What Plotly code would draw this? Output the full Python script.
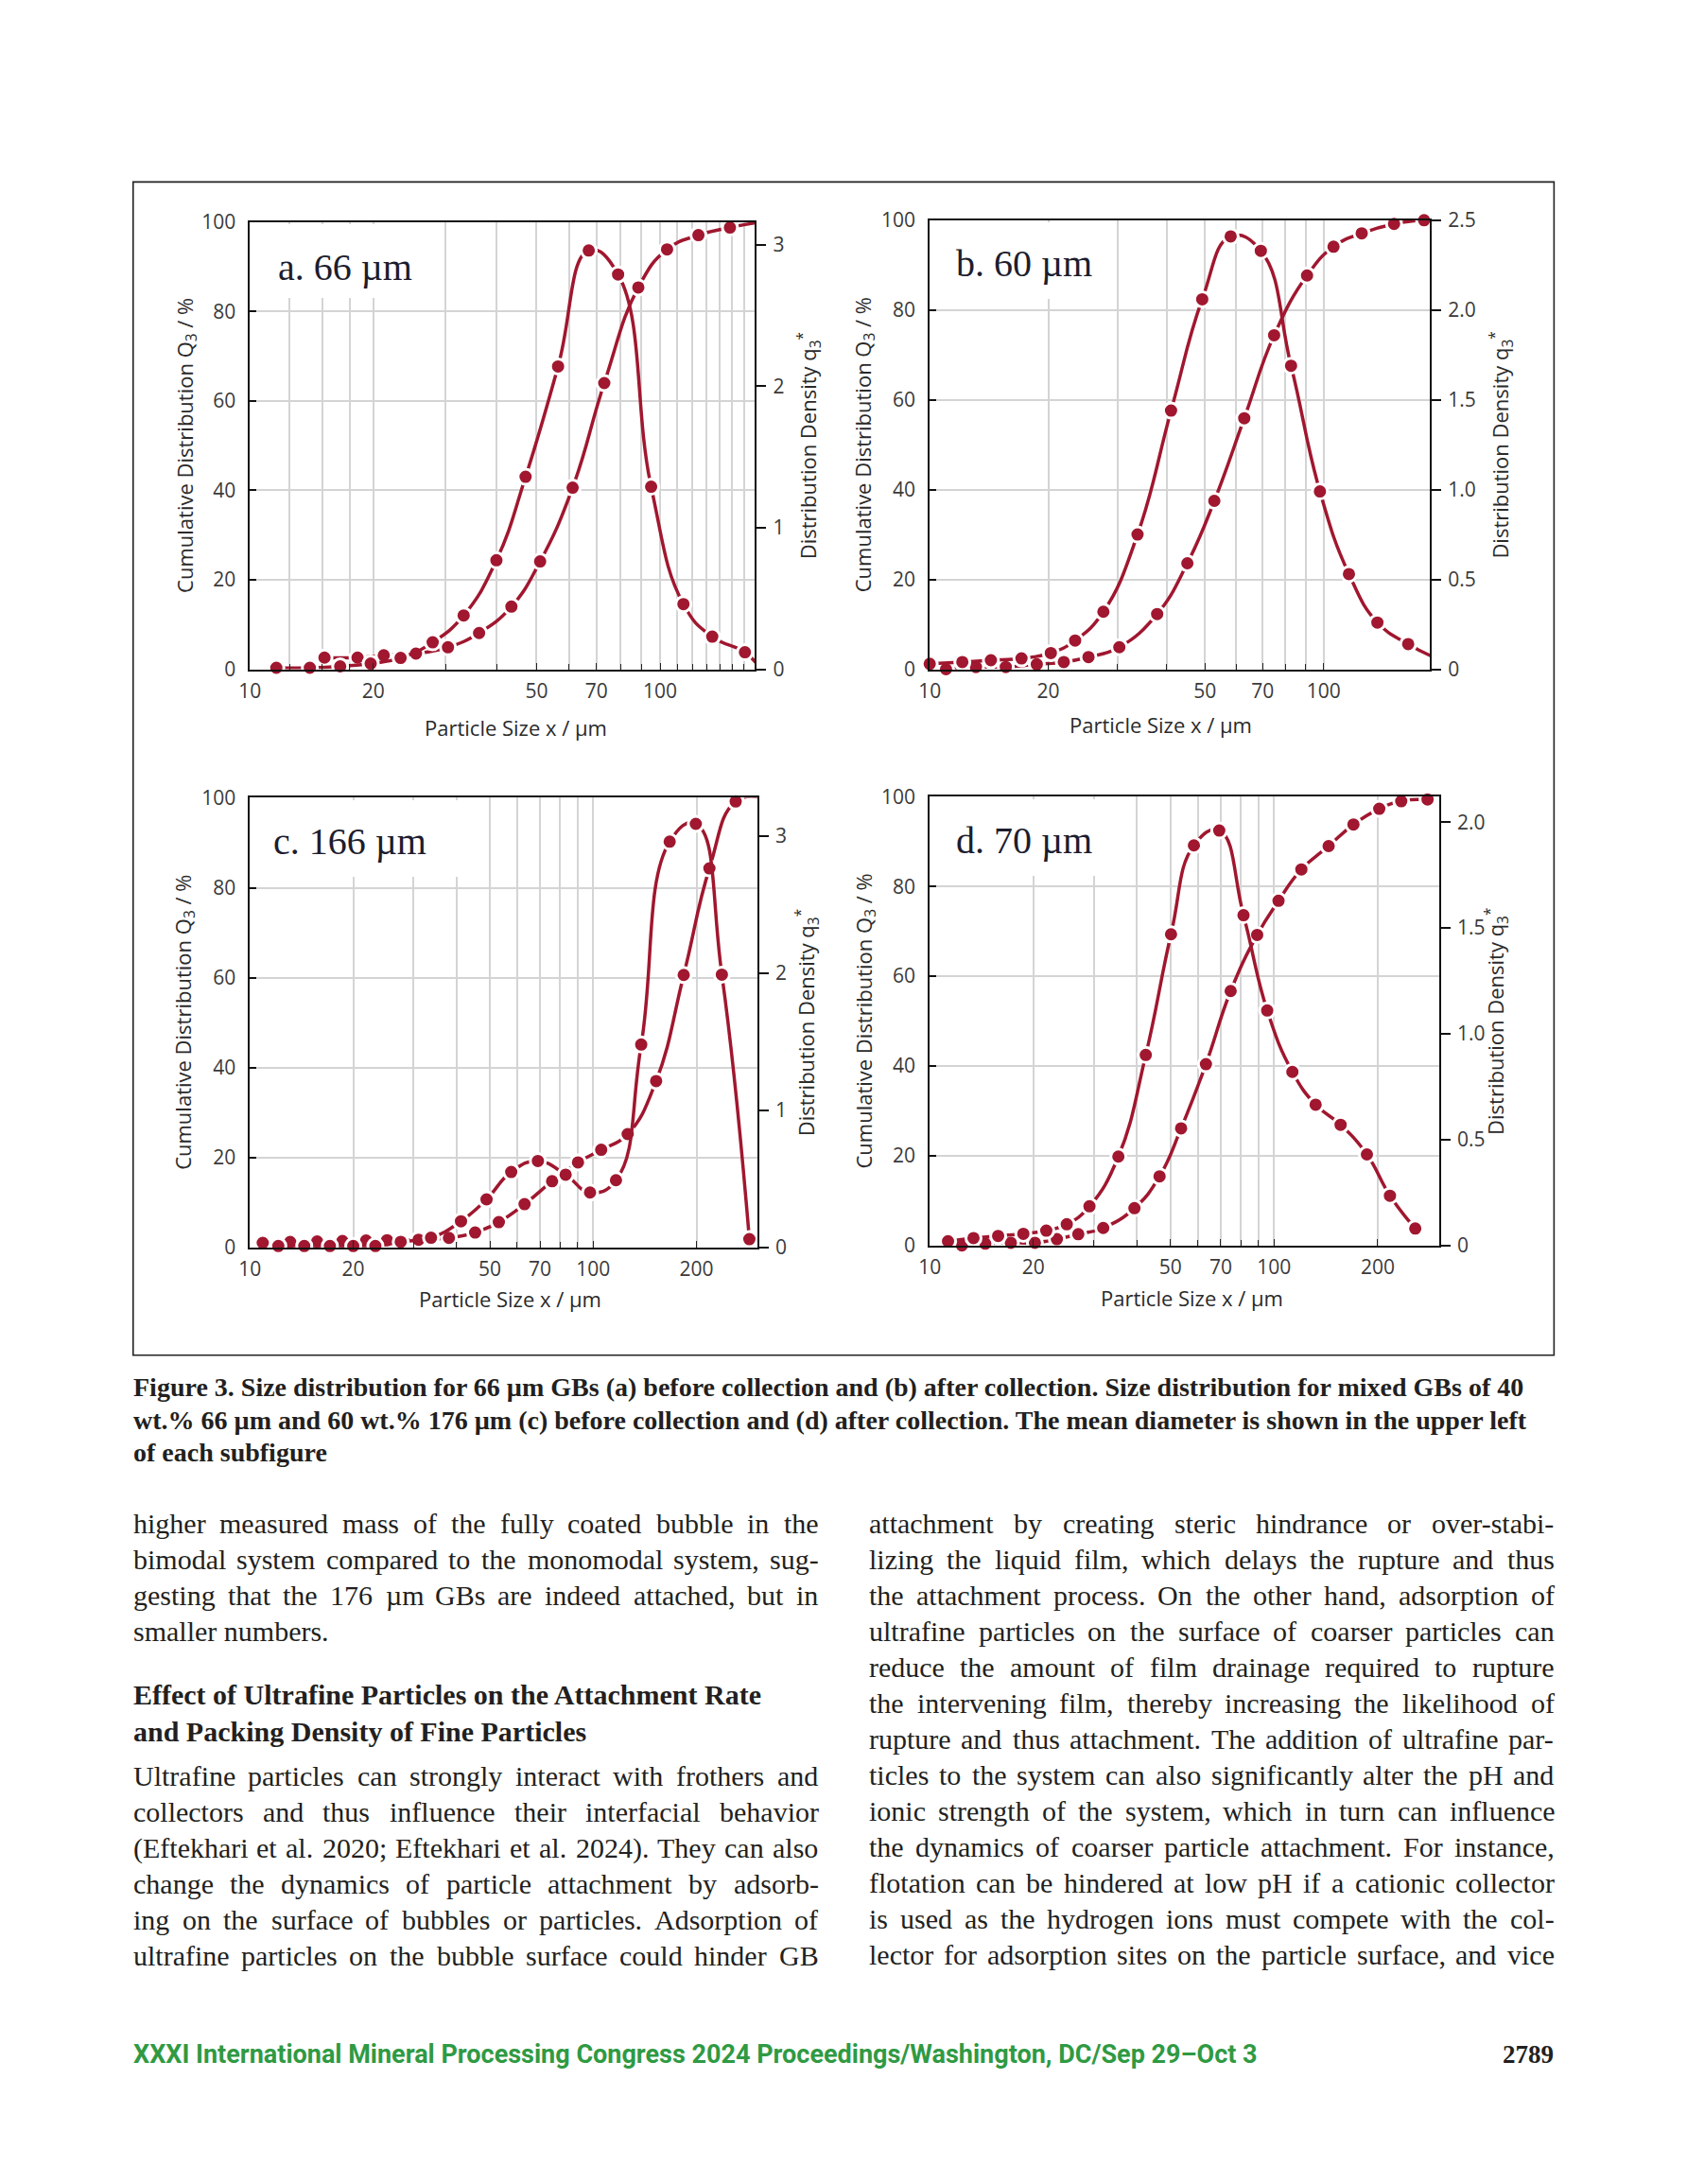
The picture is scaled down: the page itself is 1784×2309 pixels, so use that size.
import plotly.graph_objects as go

W, H = 1784, 2309
RED = '#a0172f'
GRID = '#d4d4d4'
TICKC = '#3a3a3a'

# ---------------- data ----------------
# panel a: 66 um GBs before collection
a_dens_x = [11.6, 14.0, 16.6, 19.7, 23.3, 27.9, 33.2, 39.9, 47.0, 56.4, 67.0, 79.0, 95.1, 114, 134, 161, 175]
a_dens_y = [0.01, 0.01, 0.02, 0.04, 0.08, 0.19, 0.38, 0.77, 1.36, 2.14, 2.96, 2.79, 1.29, 0.46, 0.23, 0.12, 0.01]
a_cum_x = [15.2, 18.3, 21.2, 25.4, 30.4, 36.2, 43.4, 51.0, 61.2, 73.1, 88.5, 104, 124, 148, 175]
a_cum_y = [2.6, 2.6, 3.1, 3.5, 4.9, 8.1, 14.0, 24.1, 40.6, 64.0, 85.4, 93.9, 97.1, 98.8, 100]

# panel b: 66 um GBs after collection
b_dens_x = [10.0, 12.1, 14.3, 17.1, 20.3, 23.4, 27.6, 33.7, 41.0, 49.2, 58.1, 69.3, 82.7, 97.9, 116, 137, 164, 198]
b_dens_y = [0.03, 0.04, 0.05, 0.06, 0.09, 0.16, 0.32, 0.75, 1.44, 2.06, 2.41, 2.33, 1.69, 0.99, 0.53, 0.26, 0.14, 0.05]
b_cum_x = [11.0, 13.1, 15.6, 18.7, 21.9, 25.3, 30.3, 37.8, 45.1, 52.8, 62.9, 74.9, 90.8, 106, 125, 151, 180]
b_cum_y = [0.0, 0.5, 0.5, 1.1, 1.6, 2.7, 4.9, 12.3, 23.6, 37.5, 55.9, 74.4, 87.7, 94.1, 97.1, 99.2, 100]

# panel c: mixed GBs before collection
c_dens_x = [12.1, 14.4, 17.1, 20.0, 23.2, 27.5, 33.7, 41.2, 48.9, 57.7, 69.0, 83.1, 97.9, 116.5, 138, 167, 199, 237, 285]
c_dens_y = [0.01, 0.01, 0.01, 0.01, 0.01, 0.04, 0.07, 0.19, 0.35, 0.55, 0.63, 0.53, 0.40, 0.49, 1.48, 2.96, 3.09, 1.99, 0.06]
c_cum_x = [10.9, 13.1, 15.7, 18.6, 21.8, 25.1, 31.0, 38.0, 45.3, 53.1, 63.1, 75.9, 90.3, 105.5, 126, 152.5, 183.5, 218, 260, 310]
c_cum_y = [1.0, 1.2, 1.3, 1.4, 1.5, 1.6, 1.7, 2.1, 3.3, 5.6, 9.6, 14.7, 18.9, 21.7, 25.2, 37.0, 60.6, 84.3, 99.2, 100]

# panel d: mixed GBs after collection
d_dens_x = [11.3, 13.4, 15.8, 18.7, 21.8, 25.0, 29.1, 35.3, 42.4, 50.2, 58.5, 69.3, 81.5, 95.5, 113, 132, 156, 186, 217, 257]
d_dens_y = [0.02, 0.035, 0.045, 0.055, 0.07, 0.10, 0.185, 0.42, 0.90, 1.47, 1.89, 1.96, 1.56, 1.11, 0.82, 0.665, 0.57, 0.43, 0.235, 0.08]
d_cum_x = [12.4, 14.5, 17.2, 20.2, 23.4, 27.0, 31.9, 39.3, 46.5, 53.7, 63.4, 74.8, 89.3, 103, 120, 144, 170, 202, 234, 279]
d_cum_y = [0.0, 0.4, 0.6, 0.6, 1.4, 2.5, 3.9, 8.3, 15.4, 26.1, 40.4, 56.7, 69.2, 76.8, 83.8, 89.0, 93.8, 97.3, 99.0, 99.4]

panel_labels = ['a. 66 µm', 'b. 60 µm', 'c. 166 µm', 'd. 70 µm']

x_ticks_ab = [10, 20, 50, 70, 100]
x_ticks_cd = [10, 20, 50, 70, 100, 200]
grid_a = [12.5, 15, 17.5, 30, 40, 60, 80, 90, 110, 120, 130, 140, 150, 160]
grid_b = [30, 40, 60, 80, 90]
grid_cd = [30, 40, 60, 80, 90]

left_ticks = [0, 20, 40, 60, 80, 100]
right_ticks_a = [0, 1, 2, 3]
right_ticks_b = [0, 0.5, 1.0, 1.5, 2.0, 2.5]
right_ticks_c = [0, 1, 2, 3]
right_ticks_d = [0, 0.5, 1.0, 1.5, 2.0]

caption_lines = [
    "Figure 3. Size distribution for 66 µm GBs (a) before collection and (b) after collection. Size distribution for mixed GBs of 40",
    "wt.% 66 µm and 60 wt.% 176 µm (c) before collection and (d) after collection. The mean diameter is shown in the upper left",
    "of each subfigure",
]
# (text, justified?)
left_col_top = [
    ("higher measured mass of the fully coated bubble in the", True),
    ("bimodal system compared to the monomodal system, sug-", True),
    ("gesting that the 176 µm GBs are indeed attached, but in", True),
    ("smaller numbers.", False),
]
heading_lines = [
    "Effect of Ultrafine Particles on the Attachment Rate",
    "and Packing Density of Fine Particles",
]
left_col_bottom = [
    ("Ultrafine particles can strongly interact with frothers and", True),
    ("collectors and thus influence their interfacial behavior", True),
    ("(Eftekhari et al. 2020; Eftekhari et al. 2024). They can also", True),
    ("change the dynamics of particle attachment by adsorb-", True),
    ("ing on the surface of bubbles or particles. Adsorption of", True),
    ("ultrafine particles on the bubble surface could hinder GB", True),
]
right_col = [
    ("attachment by creating steric hindrance or over-stabi-", True),
    ("lizing the liquid film, which delays the rupture and thus", True),
    ("the attachment process. On the other hand, adsorption of", True),
    ("ultrafine particles on the surface of coarser particles can", True),
    ("reduce the amount of film drainage required to rupture", True),
    ("the intervening film, thereby increasing the likelihood of", True),
    ("rupture and thus attachment. The addition of ultrafine par-", True),
    ("ticles to the system can also significantly alter the pH and", True),
    ("ionic strength of the system, which in turn can influence", True),
    ("the dynamics of coarser particle attachment. For instance,", True),
    ("flotation can be hindered at low pH if a cationic collector", True),
    ("is used as the hydrogen ions must compete with the col-", True),
    ("lector for adsorption sites on the particle surface, and vice", True),
]
footer_text = "XXXI International Mineral Processing Congress 2024 Proceedings/Washington, DC/Sep 29–Oct 3"
page_number = "2789"

# Times / Liberation Serif advance widths (per 1000 em) used to justify body lines
TIMES_W = {' ': 250, '.': 250, ',': 250, '-': 333, '(': 333, ')': 333, ';': 278, ':': 278, '%': 833, 'µ': 500,
           'A': 722, 'B': 667, 'C': 667, 'D': 722, 'E': 611, 'F': 556, 'G': 722, 'H': 722, 'I': 333, 'J': 389,
           'K': 722, 'L': 611, 'M': 889, 'N': 722, 'O': 722, 'P': 556, 'Q': 722, 'R': 667, 'S': 556, 'T': 611,
           'U': 722, 'V': 722, 'W': 944, 'X': 722, 'Y': 722, 'Z': 611,
           'a': 444, 'b': 500, 'c': 444, 'd': 500, 'e': 444, 'f': 333, 'g': 500, 'h': 500, 'i': 278, 'j': 278,
           'k': 500, 'l': 278, 'm': 778, 'n': 500, 'o': 500, 'p': 500, 'q': 500, 'r': 333, 's': 389, 't': 278,
           'u': 500, 'v': 500, 'w': 722, 'x': 500, 'y': 500, 'z': 444}


def text_w(s, size):
    return sum(TIMES_W.get(ch, 500) for ch in s) * size / 1000.0


# the page photo comes out slightly scaled/offset; positions are given in target-page pixels
SX, TX = 0.9942, 11.1
SY, TY = 0.988, 14.1


def PX(px):
    return ((px - TX) / SX) / W


def PY(py):
    return 1 - ((py - TY) / SY) / H


fig = go.Figure()

panels = [
    dict(n='', r='5', label=panel_labels[0], dx=a_dens_x, dy=a_dens_y, cx=a_cum_x, cy=a_cum_y,
         xdom=(263.6, 798.3), ydom=(234, 706.7), xr=[1, 2.2315], yr2=[0, 3.16],
         xt=x_ticks_ab, grid=grid_a, rt=right_ticks_a, rtt=['0', '1', '2', '3'],
         lt_x=196, rt_x=855, xt_pos=(545, 768), lab=(291, 282), box=(0.35, 0.17)),
    dict(n='2', r='6', label=panel_labels[1], dx=b_dens_x, dy=b_dens_y, cx=b_cum_x, cy=b_cum_y,
         xdom=(983.2, 1512.6), ydom=(232, 706.7), xr=[1, 2.270], yr2=[0, 2.5],
         xt=x_ticks_ab, grid=grid_b, rt=right_ticks_b, rtt=['0', '0.5', '1.0', '1.5', '2.0', '2.5'],
         lt_x=914, rt_x=1588, xt_pos=(1228, 765), lab=(1009, 278), box=(0.34, 0.174)),
    dict(n='3', r='7', label=panel_labels[2], dx=c_dens_x, dy=c_dens_y, cx=c_cum_x, cy=c_cum_y,
         xdom=(263.6, 800.7), ydom=(842.7, 1318), xr=[1, 2.478], yr2=[0, 3.28],
         xt=x_ticks_cd, grid=grid_cd, rt=right_ticks_c, rtt=['0', '1', '2', '3'],
         lt_x=194, rt_x=853, xt_pos=(539, 1372), lab=(286, 889), box=(0.42, 0.175)),
    dict(n='4', r='8', label=panel_labels[3], dx=d_dens_x, dy=d_dens_y, cx=d_cum_x, cy=d_cum_y,
         xdom=(983.2, 1522.3), ydom=(841.5, 1316), xr=[1, 2.479], yr2=[0, 2.12],
         xt=x_ticks_cd, grid=grid_cd, rt=right_ticks_d, rtt=['0', '0.5', '1.0', '1.5', '2.0'],
         lt_x=914, rt_x=1583, xt_pos=(1261, 1371), lab=(1009, 888), box=(0.34, 0.174)),
]

tick_font = dict(family='Open Sans, Noto Sans, sans-serif', size=21, color=TICKC)
title_font = dict(family='Open Sans, Noto Sans, sans-serif', size=22, color='#2a2a2a')

annotations = []
shapes = []
layout_axes = {}

for p in panels:
    xname = 'x' + p['n']
    yname = 'y' + p['n']
    y2name = 'y' + p['r']
    line_style = dict(color=RED, width=3.5, shape='spline', smoothing=1.3)
    marker_style = dict(size=16, color=RED, line=dict(color='white', width=3))
    fig.add_trace(go.Scatter(x=p['cx'], y=p['cy'], xaxis=xname, yaxis=yname, mode='lines+markers',
                             line=line_style, marker=marker_style, cliponaxis=False, showlegend=False))
    fig.add_trace(go.Scatter(x=p['dx'], y=p['dy'], xaxis=xname, yaxis=y2name, mode='lines+markers',
                             line=line_style, marker=marker_style, cliponaxis=False, showlegend=False))

    layout_axes['xaxis' + p['n']] = dict(
        type='log', range=p['xr'], domain=[PX(p['xdom'][0]), PX(p['xdom'][1])], anchor=yname,
        tickmode='array', tickvals=p['xt'], ticktext=[str(v) for v in p['xt']], ticks='inside', ticklen=7,
        tickcolor='#222', tickwidth=1.2, showline=True, linecolor='#111', linewidth=1.8, mirror=True,
        showgrid=True, gridcolor=GRID, gridwidth=1.5, zeroline=False, tickfont=tick_font,
        ticklabelstandoff=3,
        minor=dict(tickmode='array', tickvals=p['grid'], ticks='inside', ticklen=6, tickcolor='#222',
                   tickwidth=1.2, showgrid=True, gridcolor=GRID, gridwidth=1.5))
    layout_axes['yaxis' + p['n']] = dict(
        range=[0, 100], domain=[PY(p['ydom'][1]), PY(p['ydom'][0])], anchor=xname,
        tickmode='array', tickvals=left_ticks, ticks='inside', ticklen=7, tickcolor='#111',
        tickwidth=1.5, showline=True, linecolor='#111', linewidth=1.8, showgrid=True,
        gridcolor=GRID, gridwidth=1.5, zeroline=False, tickfont=tick_font, ticklabelstandoff=9)
    layout_axes['yaxis' + p['r']] = dict(
        range=p['yr2'], overlaying=yname, side='right', anchor=xname, tickmode='array',
        tickvals=p['rt'], ticktext=p['rtt'], ticks='outside', ticklen=10, tickcolor='#111',
        tickwidth=1.5, showline=True, linecolor='#111', linewidth=1.8, showgrid=False,
        zeroline=False, tickfont=tick_font, ticklabelstandoff=3)

    ymid = (p['ydom'][0] + p['ydom'][1]) / 2
    annotations.append(dict(text='Cumulative Distribution Q<sub>3</sub> / %', x=PX(p['lt_x']), y=PY(ymid),
                            xref='paper', yref='paper', textangle=-90, showarrow=False, font=title_font,
                            xanchor='center', yanchor='middle'))
    annotations.append(dict(text='Distribution Density q<sub>3</sub><sup>*</sup>', x=PX(p['rt_x']), y=PY(ymid),
                            xref='paper', yref='paper', textangle=-90, showarrow=False, font=title_font,
                            xanchor='center', yanchor='middle'))
    annotations.append(dict(text='Particle Size x / µm', x=PX(p['xt_pos'][0]), y=PY(p['xt_pos'][1]),
                            xref='paper', yref='paper', showarrow=False, font=title_font,
                            xanchor='center', yanchor='middle'))
    # white box behind the mean-diameter label (hides the grid there, as in the original)
    pw = p['xdom'][1] - p['xdom'][0]
    ph = p['ydom'][1] - p['ydom'][0]
    annotations.append(dict(text=' ', x=PX(p['xdom'][0] + 2.5), y=PY(p['ydom'][0] + 2.5), xref='paper',
                            yref='paper', showarrow=False, xanchor='left', yanchor='top',
                            width=(p['box'][0] * pw - 3) / SX, height=(p['box'][1] * ph - 3) / SY,
                            bgcolor='white', borderpad=0, borderwidth=0))
    annotations.append(dict(text=p['label'], x=PX(p['lab'][0]), y=PY(p['lab'][1]), xref='paper', yref='paper',
                            showarrow=False, xanchor='left', yanchor='middle',
                            font=dict(family='Liberation Serif, Times New Roman, serif', size=40, color='#1d1d2e')))

# figure frame
shapes.append(dict(type='rect', xref='paper', yref='paper', x0=PX(140), x1=PX(1644), y0=PY(1432), y1=PY(191.5),
                   line=dict(color='#222', width=1.6), fillcolor='rgba(0,0,0,0)'))

serif = 'Liberation Serif, Times New Roman, serif'
TEXTC = '#231f20'
BODY = 30
COL_W = 725


def add_body_line(text, justify, x0, ymid):
    font = dict(family=serif, size=BODY, color=TEXTC)
    words = text.split(' ')
    if not justify or len(words) < 2:
        annotations.append(dict(text=text, x=PX(x0), y=PY(ymid), xref='paper', yref='paper', showarrow=False,
                                xanchor='left', yanchor='middle', borderpad=0, font=font))
        return
    widths = [text_w(w, BODY) * SX for w in words]
    gap = (COL_W - sum(widths)) / (len(words) - 1)
    x = x0
    for w, ww in zip(words, widths):
        annotations.append(dict(text=w, x=PX(x), y=PY(ymid), xref='paper', yref='paper', showarrow=False,
                                xanchor='left', yanchor='middle', borderpad=0, font=font))
        x += ww + gap


# caption
for i, t in enumerate(caption_lines):
    annotations.append(dict(text='<b>' + t + '</b>', x=PX(138), y=PY(1466 + i * 34.5), xref='paper', yref='paper',
                            showarrow=False, xanchor='left', yanchor='middle',
                            font=dict(family=serif, size=28, color=TEXTC)))

LS = 37.96
for i, (t, j) in enumerate(left_col_top):
    add_body_line(t, j, 139, 1610 + i * LS)
for i, t in enumerate(heading_lines):
    annotations.append(dict(text='<b>' + t + '</b>', x=PX(138), y=PY(1791 + i * 38.5), xref='paper', yref='paper',
                            showarrow=False, xanchor='left', yanchor='middle',
                            font=dict(family=serif, size=30, color=TEXTC)))
for i, (t, j) in enumerate(left_col_bottom):
    add_body_line(t, j, 139, 1877 + i * LS)
for i, (t, j) in enumerate(right_col):
    add_body_line(t, j, 918, 1610 + i * LS)

annotations.append(dict(text='<b>' + footer_text + '</b>', x=PX(138), y=PY(2171), xref='paper', yref='paper',
                        showarrow=False, xanchor='left', yanchor='middle',
                        font=dict(family='Roboto, Liberation Sans, sans-serif', size=27, color='#2f9a43')))
annotations.append(dict(text='<b>' + page_number + '</b>', x=PX(1646), y=PY(2171), xref='paper', yref='paper',
                        showarrow=False, xanchor='right', yanchor='middle',
                        font=dict(family=serif, size=27, color=TEXTC)))

fig.update_layout(
    width=W, height=H, margin=dict(l=0, r=0, t=0, b=0), autosize=False,
    paper_bgcolor='white', plot_bgcolor='white', showlegend=False,
    annotations=annotations, shapes=shapes, **layout_axes)

fig.write_html("out.html", config={'displayModeBar': False, 'responsive': False},
               post_script="document.body.style.margin='0';document.body.style.overflow='hidden';")
